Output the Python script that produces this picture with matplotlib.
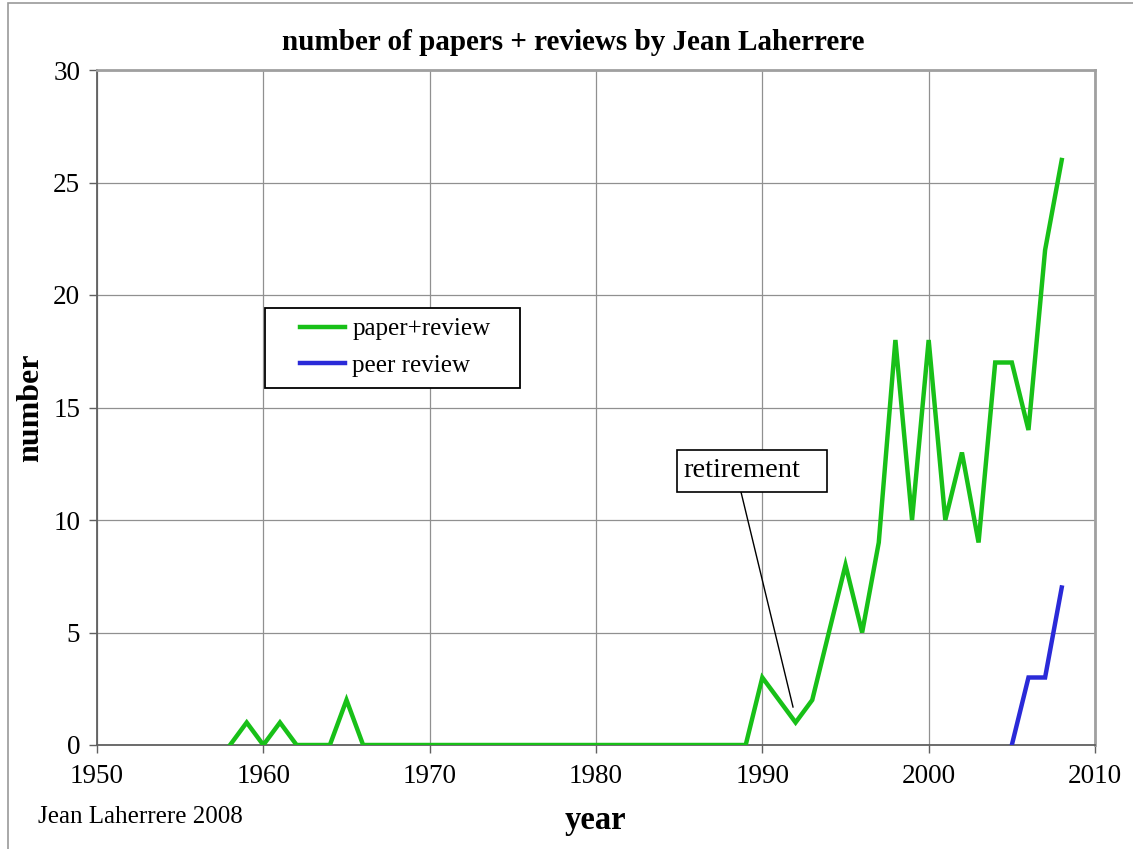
import matplotlib.pyplot as plt
from matplotlib.patches import Rectangle
from matplotlib.lines import Line2D

# ── Data ──────────────────────────────────────────────────────────────────────
years_total = list(range(1958, 2009))
counts_total = [0, 1, 0, 1, 0, 0, 0, 2, 0, 0,          # 1958-1967
                0, 0, 0, 0, 0, 0, 0, 0, 0, 0,          # 1968-1977
                0, 0, 0, 0, 0, 0, 0, 0, 0, 0,          # 1978-1987
                0, 0, 3, 2, 1, 2, 5, 8, 5, 9,          # 1988-1997
                18, 10, 18, 10, 13, 9, 17, 17, 14, 22,  # 1998-2007
                26]                                     # 2008

years_peer = [2005, 2006, 2007, 2008]
counts_peer = [0, 3, 3, 7]

x_ticks = [1950, 1960, 1970, 1980, 1990, 2000, 2010]
y_ticks = [0, 5, 10, 15, 20, 25, 30]

plt.rcParams['font.family'] = ['Liberation Serif', 'DejaVu Serif']

W, H = 1133, 849
fig = plt.figure(figsize=(W / 100, H / 100), dpi=100)
ax = fig.add_axes([97 / W, 1 - 745 / H, (1095 - 97) / W, (745 - 70) / H])


def px(x, y):
    # pixel position (from top-left) -> figure fraction
    return x / W, 1 - y / H


# outer chart border (Excel style)
fig.patches.append(Rectangle((8 / W, -0.1), 1.2, 1 - 3 / H + 0.1,
                             transform=fig.transFigure, fill=False,
                             edgecolor='#9a9a9a', linewidth=1.2))

ax.plot(years_total, counts_total, color='#18c018', lw=3.2, label='paper+review',
        solid_joinstyle='miter', zorder=3)
ax.plot(years_peer, counts_peer, color='#2a2ad8', lw=3.2, label='peer review',
        solid_joinstyle='miter', zorder=3)

ax.set_xlim(1950, 2010)
ax.set_ylim(0, 30)
ax.set_xticks(x_ticks)
ax.set_yticks(y_ticks)
ax.tick_params(labelsize=19.5, length=6, direction='out', color='#606060', width=1)
ax.tick_params(axis='x', pad=8)
ax.tick_params(axis='y', pad=6)
ax.grid(True, color='#909090', lw=0.9)
ax.set_axisbelow(True)

for side in ['left', 'bottom']:
    ax.spines[side].set_color('#606060')
    ax.spines[side].set_linewidth(1.3)
for side in ['top', 'right']:
    ax.spines[side].set_color('#a0a0a0')
    ax.spines[side].set_linewidth(2)

fig.text(*px(573, 42), 'number of papers + reviews by Jean Laherrere',
         fontsize=21, fontweight='bold', ha='center', va='center')
fig.text(*px(595, 821), 'year', fontsize=23.5, fontweight='bold',
         ha='center', va='center')
fig.text(*px(31, 408), 'number', fontsize=23, fontweight='bold',
         ha='center', va='center', rotation=90)
fig.text(*px(38, 817), 'Jean Laherrere 2008', fontsize=18, va='center')

# legend: box drawn separately so the padding matches the original
fig.patches.append(Rectangle(px(265, 388), 255 / W, 80 / H, transform=fig.transFigure,
                             fill=True, facecolor='white', edgecolor='black',
                             linewidth=1.3, zorder=4))
leg = fig.legend(loc='upper left', bbox_to_anchor=px(300, 318), fontsize=18,
                 frameon=False, handlelength=1.8, handletextpad=0.3,
                 labelspacing=0.55, borderpad=0, borderaxespad=0)
leg.set_zorder(5)

# retirement note
fig.patches.append(Rectangle(px(677, 492), 150 / W, 42 / H, transform=fig.transFigure,
                             fill=True, facecolor='white', edgecolor='black',
                             linewidth=1.2, zorder=4))
fig.text(*px(683, 470), 'retirement', fontsize=20.5, va='center', zorder=5)
fig.lines.append(Line2D([741 / W, 793 / W], [1 - 492 / H, 1 - 707 / H],
                        transform=fig.transFigure, color='black', lw=1))

fig.savefig('out.png', dpi=100)
